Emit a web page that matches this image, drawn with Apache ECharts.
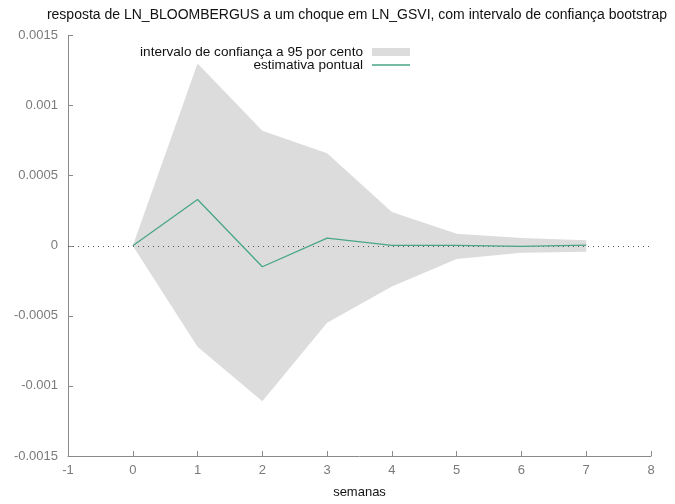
<!DOCTYPE html>
<html>
<head>
<meta charset="utf-8">
<script src="https://cdn.jsdelivr.net/npm/echarts@6/dist/echarts.min.js"></script>
<style>
  html, body { margin: 0; padding: 0; background: #fff; }
  #chart { width: 675px; height: 504px; }
</style>
</head>
<body>
<div id="chart"></div>
<script>
// Impulse response of LN_BLOOMBERGUS to a shock in LN_GSVI (weekly horizon)
var weeks = [0, 1, 2, 3, 4, 5, 6, 7];
var upperBound = [0, 0.00130, 0.00082, 0.00066, 0.00024, 0.000085, 0.000055, 0.00004];
var lowerBound = [0, -0.00072, -0.00111, -0.00055, -0.00029, -0.000095, -0.00005, -0.000043];
var pointEstimate = [0, 0.00033, -0.00015, 0.000055, 0.000002, 0.000002, -0.000004, 0.000005];

var xTicks = [-1, 0, 1, 2, 3, 4, 5, 6, 7, 8];
var yTicks = [-0.0015, -0.001, -0.0005, 0, 0.0005, 0.001, 0.0015];

var titleText = 'resposta de LN_BLOOMBERGUS a um choque em LN_GSVI, com intervalo de confiança bootstrap';
var bandName = 'intervalo de confiança a 95 por cento';
var lineName = 'estimativa pontual';
var xName = 'semanas';

var bandColor = '#dcdcdc';
var lineColor = '#48a588';
var font = 'Liberation Sans, Arial, Helvetica, sans-serif';

var bandData = weeks.map(function (w, i) { return [w, lowerBound[i], upperBound[i]]; });
var lineData = weeks.map(function (w, i) { return [w, pointEstimate[i]]; });

var chart = echarts.init(document.getElementById('chart'), null, { renderer: 'canvas' });

chart.setOption({
  animation: false,
  backgroundColor: '#ffffff',
  title: {
    text: titleText,
    left: 352,
    textAlign: 'center',
    top: 3,
    textStyle: { fontFamily: font, fontSize: 14, fontWeight: 'normal', color: '#111' }
  },
  legend: [
    {
      data: [{ name: bandName, icon: 'rect' }],
      right: 260,
      top: 40,
      align: 'right',
      itemWidth: 38,
      itemHeight: 8,
      selectedMode: false,
      textStyle: { fontFamily: font, fontSize: 13.6, color: '#111', padding: [0, 4, 0, 0] }
    },
    {
      data: [{ name: lineName, icon: 'rect' }],
      right: 260,
      top: 53,
      align: 'right',
      itemWidth: 38,
      itemHeight: 1.4,
      selectedMode: false,
      textStyle: { fontFamily: font, fontSize: 13.6, color: '#111', padding: [0, 4, 0, 0] }
    }
  ],
  grid: { left: 68, right: 24, top: 35.5, bottom: 46, containLabel: false },
  xAxis: {
    type: 'value',
    min: xTicks[0],
    max: xTicks[xTicks.length - 1],
    interval: 1,
    name: xName,
    nameLocation: 'middle',
    nameGap: 30,
    nameTextStyle: { fontFamily: font, fontSize: 13, color: '#111' },
    axisLine: { onZero: false, lineStyle: { color: '#8a8a8a', width: 1 } },
    axisTick: { inside: true, length: 5, lineStyle: { color: '#8a8a8a' } },
    axisLabel: { fontFamily: font, fontSize: 13, color: '#7a7a7a', margin: 8 },
    splitLine: { show: false }
  },
  yAxis: {
    type: 'value',
    min: yTicks[0],
    max: yTicks[yTicks.length - 1],
    interval: 0.0005,
    axisLine: { show: true, onZero: false, lineStyle: { color: '#8a8a8a', width: 1 } },
    axisTick: { show: true, inside: true, length: 5, lineStyle: { color: '#8a8a8a' } },
    axisLabel: {
      fontFamily: font, fontSize: 13, color: '#7a7a7a', margin: 10,
      formatter: function (v) { return String(parseFloat(v.toFixed(4))); }
    },
    splitLine: { show: false }
  },
  series: [
    {
      name: bandName,
      type: 'custom',
      itemStyle: { color: bandColor },
      data: bandData,
      encode: { x: 0, y: [1, 2] },
      renderItem: function (params, api) {
        if (params.dataIndex !== 0) return null;
        var upper = [], lower = [];
        for (var i = 0; i < bandData.length; i++) {
          upper.push(api.coord([bandData[i][0], bandData[i][2]]));
          lower.unshift(api.coord([bandData[i][0], bandData[i][1]]));
        }
        return {
          type: 'polygon',
          shape: { points: upper.concat(lower) },
          style: { fill: bandColor, stroke: null }
        };
      },
      z: 1
    },
    {
      name: lineName,
      type: 'line',
      data: lineData,
      symbol: 'none',
      lineStyle: { color: lineColor, width: 1.3 },
      itemStyle: { color: lineColor },
      z: 3,
      markLine: {
        silent: true,
        symbol: 'none',
        label: { show: false },
        lineStyle: { color: '#555', width: 1, type: [1, 4] },
        data: [{ yAxis: 0 }],
        z: 2
      }
    }
  ]
});
</script>
</body>
</html>
